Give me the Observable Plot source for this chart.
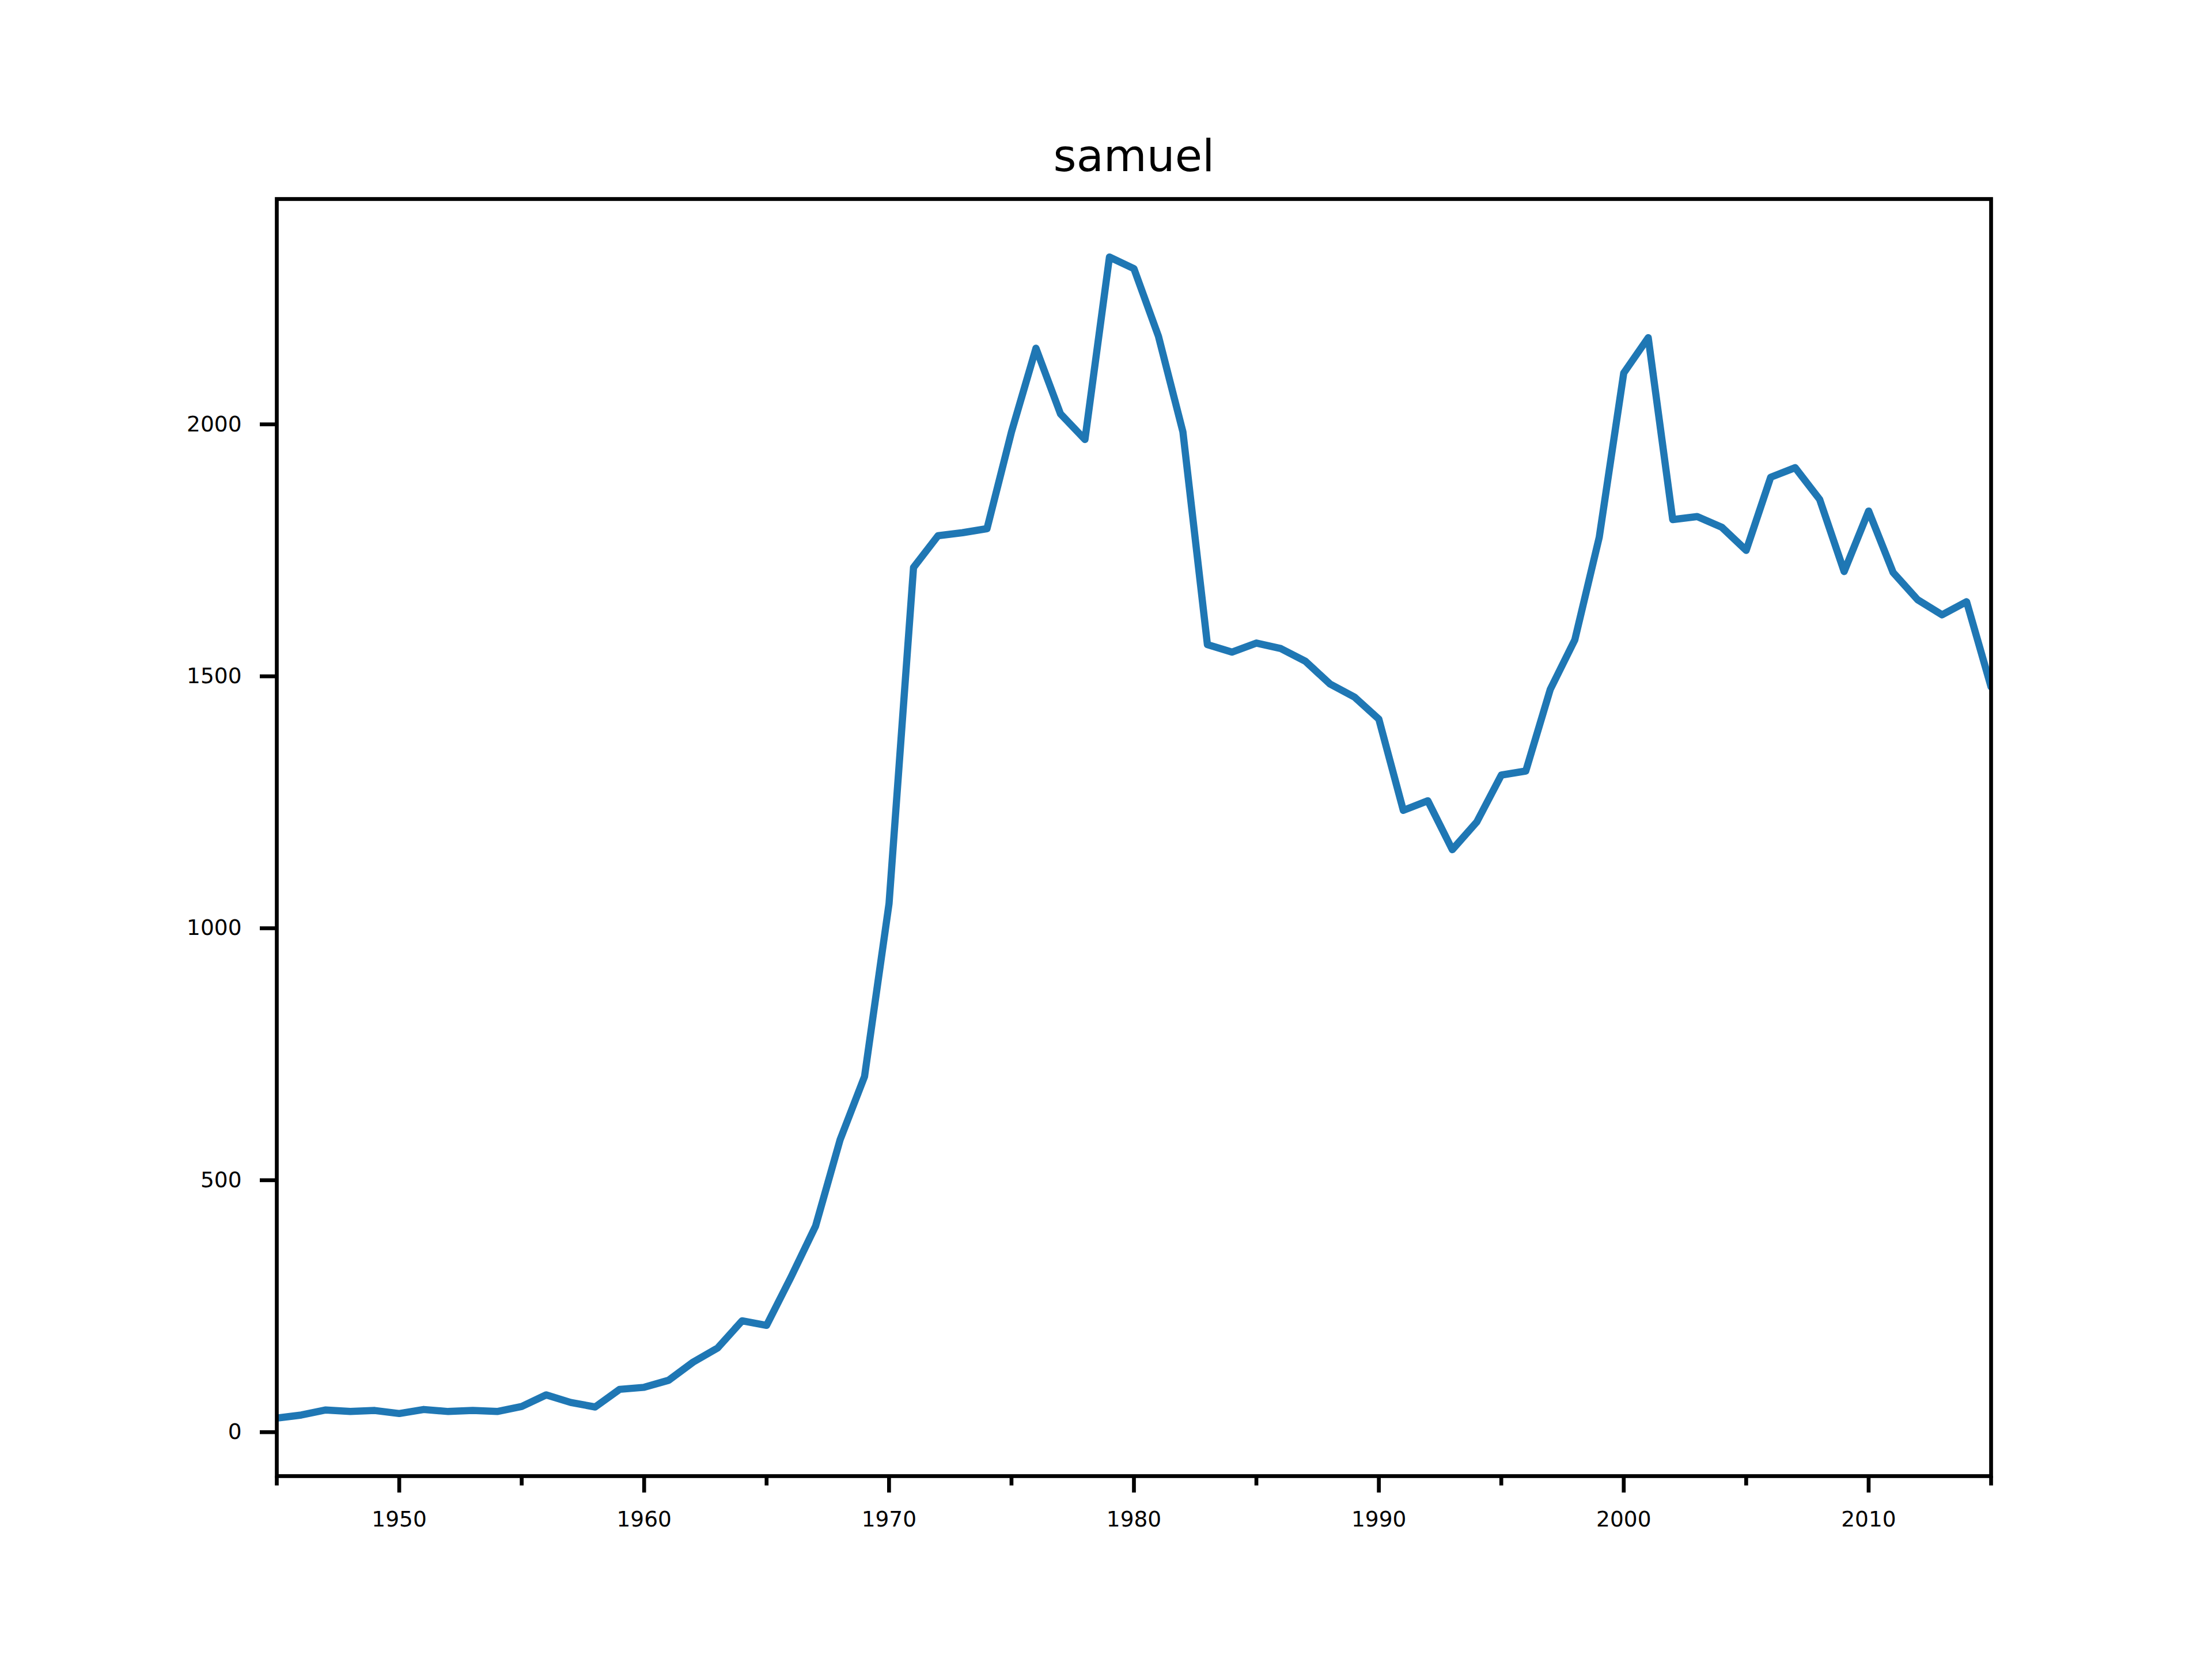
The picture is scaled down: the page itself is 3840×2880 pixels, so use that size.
<!DOCTYPE html>
<html>
<head>
<meta charset="utf-8">
<script src="https://cdn.jsdelivr.net/npm/d3@7"></script>
<script src="https://cdn.jsdelivr.net/npm/@observablehq/plot@0.6"></script>
<style>
  html, body { margin: 0; padding: 0; background: white; }
</style>
</head>
<body>
<div id="chart"></div>
<script>
const title = "samuel";
const years = [1945,1946,1947,1948,1949,1950,1951,1952,1953,1954,1955,1956,1957,1958,1959,
  1960,1961,1962,1963,1964,1965,1966,1967,1968,1969,1970,1971,1972,1973,1974,1975,1976,1977,
  1978,1979,1980,1981,1982,1983,1984,1985,1986,1987,1988,1989,1990,1991,1992,1993,1994,1995,
  1996,1997,1998,1999,2000,2001,2002,2003,2004,2005,2006,2007,2008,2009,2010,2011,2012,2013,
  2014,2015];
const counts = [28,34,44,41,43,37,45,41,43,41,51,74,59,50,85,
  89,103,139,167,221,212,308,409,580,706,1049,1716,1779,1785,1793,1985,2151,2021,
  1970,2332,2309,2175,1985,1563,1548,1566,1555,1530,1485,1459,1415,1234,1253,1156,1211,1304,
  1312,1474,1572,1776,2102,2172,1811,1817,1796,1750,1895,1914,1851,1708,1828,1706,1652,1622,
  1648,1479];
const yTicks = [0, 500, 1000, 1500, 2000];
const xMajorTicks = [1950, 1960, 1970, 1980, 1990, 2000, 2010];
const xMinorTicks = [1945, 1955, 1965, 1975, 1985, 1995, 2005, 2015];

const data = years.map((year, i) => ({year, count: counts[i]}));
const lo = d3.min(counts), hi = d3.max(counts);
const pad = (hi - lo) * 0.05;

const chart = Plot.plot({
  width: 3840,
  height: 2880,
  marginLeft: 480,
  marginRight: 384,
  marginTop: 345,
  marginBottom: 318,
  style: {fontFamily: "DejaVu Sans", fontSize: "37.5px", background: "white", color: "black"},
  x: {domain: [1945, 2015], label: null},
  y: {domain: [lo - pad, hi + pad], label: null},
  marks: [
    Plot.line(data, {x: "year", y: "count", stroke: "#1f77b4", strokeWidth: 12.5, clip: true}),
    Plot.frame({stroke: "black", strokeWidth: 6.67}),
    Plot.axisY({ticks: yTicks, tickSize: 29, tickPadding: 32, strokeWidth: 6.67, tickFormat: d => String(d), label: null}),
    Plot.axisX({ticks: xMajorTicks, tickSize: 29, tickPadding: 32, strokeWidth: 6.67, tickFormat: d => String(d), label: null}),
    Plot.axisX({ticks: xMinorTicks, tickSize: 16.7, strokeWidth: 6.67, tickFormat: () => "", label: null}),
    Plot.text([title], {text: d => d, frameAnchor: "top", lineAnchor: "middle", dy: -73, fontSize: 77})
  ]
});
document.getElementById("chart").appendChild(chart);
</script>
</body>
</html>
